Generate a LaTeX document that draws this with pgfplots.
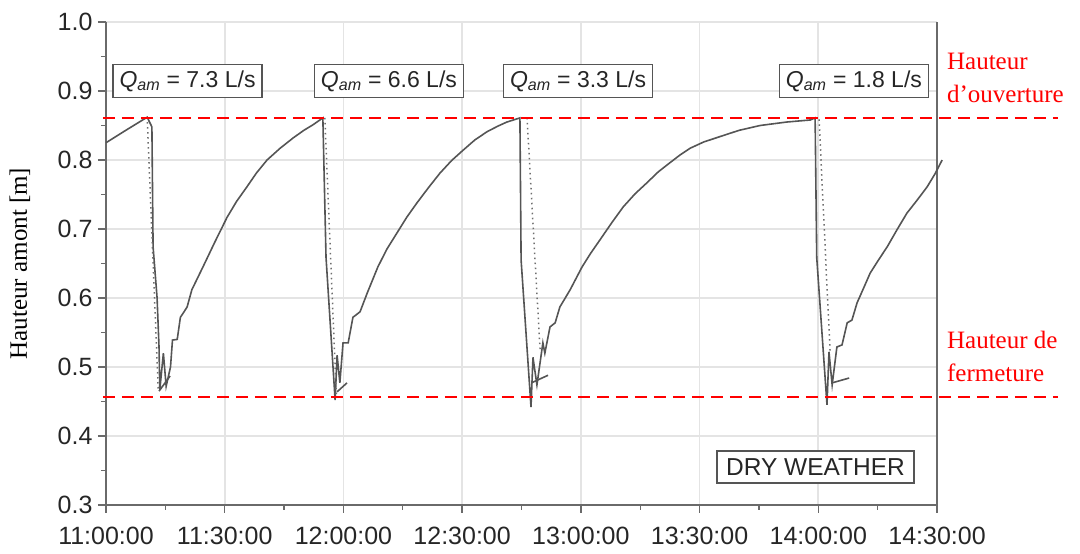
\documentclass[border=0pt]{standalone}
\usepackage{pgfplots}
\pgfplotsset{compat=1.18}
\usepackage{fontspec}
\setmainfont{Liberation Sans}
\newfontfamily\serif{Liberation Serif}
\definecolor{curve}{HTML}{555555}
\definecolor{gridc}{HTML}{E4E4E4}
\definecolor{axc}{HTML}{6A6A6A}
\definecolor{hred}{HTML}{FF0000}

\begin{document}
\begin{tikzpicture}
\begin{axis}[
  name=ax,
  scale only axis,
  width=831pt, height=483pt,
  xmin=0, xmax=210, ymin=0.3, ymax=1.0,
  xtick={0,30,60,90,120,150,180,210},
  xticklabels={11:00:00,11:30:00,12:00:00,12:30:00,13:00:00,13:30:00,14:00:00,14:30:00},
  ytick={0.3,0.4,0.5,0.6,0.7,0.8,0.9,1.0},
  minor x tick num=1, minor y tick num=1,
  tick align=outside,
  xtick pos=left, ytick pos=left,
  major tick length=8pt, minor tick length=5pt,
  axis x line*=bottom,
  axis line style={axc, line width=1.6pt},
  every tick/.style={axc, line width=1.4pt},
  grid=major, major grid style={gridc, line width=1.6pt},
  /pgf/number format/assume math mode=true,
  tick label style={font=\fontsize{25}{29}\selectfont, text=black!85},
  xticklabel style={yshift=-11pt},
  yticklabel style={xshift=-2pt, /pgf/number format/.cd, fixed, fixed zerofill, precision=1},
  ylabel={Hauteur amont [m]},
  every axis y label/.style={at={(axis description cs:-0.1035,0.5)}, rotate=90, anchor=center,
    font=\serif\fontsize{25}{30}\selectfont},
  clip=false,
]
% niveau mesure
\addplot[curve, line width=1.6pt] coordinates {
  (0,0.825) (5,0.843) (10.4,0.862) (11.6,0.848) (11.9,0.674) (12.9,0.601)
  (13.4,0.529) (13.6,0.467) (14.5,0.520) (15.2,0.472) (16.3,0.500) (16.8,0.539)
  (18.0,0.540) (18.8,0.572) (19.5,0.578) (20.5,0.587) (21.7,0.612) (24.5,0.645)
  (27.5,0.681) (30.6,0.717) (33,0.740) (35.6,0.761) (38,0.781) (40.7,0.800) (44,0.817)
  (47.3,0.832) (50,0.843) (52.3,0.851) (54.8,0.861)
  (55.6,0.659) (57.9,0.452) (58.4,0.517) (59.1,0.477) (59.9,0.535) (61.2,0.535)
  (62.4,0.572) (64.2,0.580) (66.0,0.607) (68.7,0.645) (71,0.671) (73.5,0.694) (76,0.717)
  (78.6,0.738) (81.5,0.760) (84.4,0.781) (87.3,0.799) (90.2,0.814) (93.2,0.829)
  (96.3,0.841) (99,0.849) (101.3,0.855) (104.6,0.861)
  (104.9,0.655) (107.4,0.442) (107.9,0.514) (108.9,0.474) (110.4,0.535) (110.9,0.520)
  (112.2,0.558) (113.5,0.564) (114.7,0.587) (117.3,0.612) (120.3,0.645) (122.5,0.665)
  (124.8,0.684) (127.8,0.709) (130.7,0.732) (133.7,0.751) (136.7,0.767) (139.6,0.783)
  (142.5,0.796) (145,0.807) (147.6,0.817) (151,0.826) (155.2,0.834) (160,0.843)
  (165.3,0.850) (172,0.855) (178,0.858) (179.2,0.861)
  (179.6,0.659) (182.2,0.445) (182.7,0.522) (183.5,0.474) (184.7,0.529) (186.0,0.532)
  (187.3,0.564) (188.5,0.568) (189.8,0.593) (191.5,0.615) (193.1,0.636) (195.2,0.655)
  (197.4,0.674) (200,0.700) (202.4,0.723) (205,0.742) (207.5,0.761) (209.5,0.780)
  (211.3,0.800)
};
% courtes traces en fin de chute
\addplot[curve, line width=1.6pt] coordinates {(13.4,0.465) (16.2,0.487)};
\addplot[curve, line width=1.6pt] coordinates {(58.4,0.464) (60.9,0.477)};
\addplot[curve, line width=1.6pt] coordinates {(107.9,0.478) (111.7,0.488)};
\addplot[curve, line width=1.6pt] coordinates {(183.5,0.477) (187.8,0.484)};
% pointilles
\addplot[curve!85, line width=1.5pt, dash pattern=on 1.5pt off 3.5pt] coordinates {(10.4,0.862) (13.2,0.468)};
\addplot[curve!85, line width=1.5pt, dash pattern=on 1.5pt off 3.5pt] coordinates {(55.3,0.861) (58.2,0.460)};
\addplot[curve!85, line width=1.5pt, dash pattern=on 1.5pt off 3.5pt] coordinates {(106.4,0.861) (109.7,0.525)};
\addplot[curve!85, line width=1.5pt, dash pattern=on 1.5pt off 3.5pt] coordinates {(180.2,0.859) (183.0,0.520)};
% hauteurs d'ouverture et de fermeture
\addplot[hred, line width=2.2pt, dash pattern=on 12pt off 7pt] coordinates {(-0.8,0.861) (240.6,0.861)};
\addplot[hred, line width=2.2pt, dash pattern=on 12pt off 7pt] coordinates {(-0.8,0.457) (240.6,0.457)};

\tikzset{qbox/.style={draw=curve, line width=1.2pt, fill=white, minimum width=149pt,
  minimum height=33pt, inner sep=2pt, font=\fontsize{23}{27}\selectfont, text=black!85}}
\node[qbox] at (axis cs:20.6,0.9145) {\textit{Q}\textsubscript{\textit{am}} = 7.3 L/s};
\node[qbox] at (axis cs:71.5,0.9145) {\textit{Q}\textsubscript{\textit{am}} = 6.6 L/s};
\node[qbox] at (axis cs:119.3,0.9145) {\textit{Q}\textsubscript{\textit{am}} = 3.3 L/s};
\node[qbox] at (axis cs:189.0,0.9145) {\textit{Q}\textsubscript{\textit{am}} = 1.8 L/s};
\node[draw=curve, line width=1.2pt, fill=white, minimum width=197pt, minimum height=32pt,
  inner sep=2pt, font=\fontsize{24.5}{28}\selectfont, text=black!85]
  at (axis cs:179.3,0.355) {DRY WEATHER};

\node[anchor=west, align=left, inner sep=0pt, text=hred, font=\serif\fontsize{25}{33}\selectfont]
  at (axis cs:212.5,0.919) {Hauteur\\d’ouverture};
\node[anchor=west, align=left, inner sep=0pt, text=hred, font=\serif\fontsize{25}{33}\selectfont]
  at (axis cs:212.5,0.516) {Hauteur de\\fermeture};
\end{axis}
\pgfresetboundingbox
\path ([shift={(-106pt,-49pt)}]ax.south west) rectangle ([shift={(143pt,22pt)}]ax.north east);
\end{tikzpicture}
\end{document}
